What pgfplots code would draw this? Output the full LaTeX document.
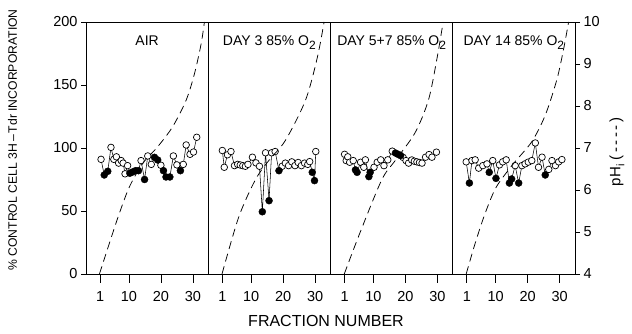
\documentclass[border=0pt]{standalone}
\usepackage{fontspec}
\setmainfont{Liberation Sans}
\usepackage{pgfplots}
\usepackage{pgfplotstable}
\pgfplotsset{compat=1.18}

% fraction, value, filled flag
\pgfplotstableread{
x y f
1.3 91 0
2.3 78.6 1
3.4 81.5 1
4.4 100.5 0
5.3 91 0
6.1 93 0
6.8 88 0
7.6 90 0
8.2 88 0
8.8 79.5 0
9.6 86 0
10.3 80 1
11.2 81 1
12.1 82 1
13 82 1
13.8 90 0
14.9 75 1
15.9 93.7 0
17 87 0
18 92.6 1
19 90.5 1
20 86.3 0
20.8 82 1
21.6 77 1
22.8 77 1
23.9 93.7 0
25 86.6 0
26.1 82 1
27 87 0
27.9 102.4 0
29.1 95 0
30.2 96.8 0
31.2 108.5 0
}\dA
\pgfplotstableread{
x y f
1 98 0
1.6 84.7 0
2.6 94.6 0
3.7 97.2 0
4.8 86 0
5.8 87 0
6.6 86.5 0
7.4 86 0
8.2 85.5 0
9 87 0
10.4 92.7 0
11.5 88.2 0
12.6 85.5 0
13.5 49.4 1
14.5 96.2 0
15.6 58.2 1
16.4 96.2 0
17.5 97.2 0
18.7 82 1
19.7 85.5 0
20.7 88 0
21.7 86 0
22.7 89 0
23.7 86 0
24.7 88.5 0
25.7 86 0
26.7 88 0
27.7 87 0
28.3 89.2 0
29.1 80.7 1
29.8 74.1 1
30.2 97.2 0
}\dB
\pgfplotstableread{
x y f
1 95 0
1.5 90 0
2 93 0
2.6 88.7 0
3.7 90 0
4.4 82.6 1
4.9 80.7 1
6 88.7 0
7 84.7 0
7.5 90.6 0
8.6 77.3 1
9 80.7 1
10.2 84.7 0
11.2 88.7 0
12.3 90.6 0
13.3 86 0
14.5 90.6 0
15.9 97.5 0
16.9 96 1
17.7 95 1
18.5 94 1
19.3 92.5 0
20.2 90 0
21 88 0
22 90.5 0
22.8 89.5 0
23.6 89 0
24.4 88.5 0
25.2 88 0
26.3 92.7 0
27.4 94.8 0
28.3 92.7 0
29.7 96.7 0
}\dC
\pgfplotstableread{
x y f
0.8 89 0
1.8 72.2 1
2.6 90 0
3.6 90.6 0
4.7 84 0
6 86 0
7.3 87.4 0
8 80.7 1
9.1 90 0
10.1 75.9 1
11.2 86.6 0
12.2 89 0
13.3 90.6 0
14.3 72.2 1
15 75.4 1
16.1 86 0
17.2 72.2 1
18.2 86 0
19.2 87.4 0
20.2 88.8 0
21.3 90 0
22.4 104 0
23.4 84.7 0
24.5 92.7 0
25.5 78.6 1
26.6 83 0
27.6 90 0
28.7 86 0
29.7 89 0
30.7 90.8 0
}\dD
% pH curves
\pgfplotstableread{
x ph
0.8 4.0
3.9 4.73
7 5.44
10.2 6.08
14.3 6.63
19 7.03
23.7 7.51
27.9 8.14
30.5 8.77
32.6 9.49
33.6 10
}\pA
\pgfplotstableread{
x ph
0.9 4.0
6.1 5.35
11.3 6.24
15.5 6.7
20.7 7.18
27 8.14
30.7 9.16
32.8 10
}\pB
\pgfplotstableread{
x ph
0.9 4.0
5.8 4.98
12.6 6.24
16.8 6.7
23 7.36
27.2 8.14
29.8 9.1
31.8 10
}\pC
\pgfplotstableread{
x ph
0.8 4.0
3.6 4.73
6.7 5.44
10.2 6.07
15.6 6.63
21.3 7.15
25.5 7.78
29.1 8.62
31.2 9.34
32.8 10
}\pD

\pgfplotsset{
  panel/.style={
    scale only axis, width=122.25pt, height=252pt, anchor=south west,
    xmin=-3.4, xmax=34.8, ymin=0, ymax=200,
    xtick={1,10,20,30}, xtick pos=bottom, ytick=\empty,
    tick align=outside, major tick length=9pt,
    axis line style={line width=0.8pt}, tick style={black, line width=0.7pt},
    tick label style={font=\fontsize{14.5}{15}\selectfont},
    xticklabel shift=5pt,
    /pgf/number format/assume math mode=true,
  },
  phaxis/.style={
    scale only axis, width=122.25pt, height=252pt, anchor=south west,
    xmin=-3.4, xmax=34.8, ymin=4, ymax=10,
  },
  openm/.style={only marks, mark=*, mark size=3.3pt, mark options={fill=white, draw=black, line width=0.7pt}},
  fillm/.style={only marks, mark=*, mark size=3.5pt, mark options={fill=black, draw=black}},
  phcurve/.style={black, dash pattern=on 8pt off 5pt, line width=0.75pt, smooth},
}

\newcommand{\panelplots}[1]{%
  \addplot[black, line width=0.55pt] table[x=x,y=y]{#1};
  \addplot[openm, restrict expr to domain={\thisrow{f}}{0:0}] table[x=x,y=y]{#1};
  \addplot[fillm, restrict expr to domain={\thisrow{f}}{1:1}] table[x=x,y=y]{#1};
}
\newcommand{\Otwo}{O\raisebox{-0.5ex}{\fontsize{12}{12}\selectfont 2}}

\begin{document}
\begin{tikzpicture}[x=1pt,y=1pt]
\useasboundingbox (0,0) rectangle (632,334);

% panel 1
\begin{axis}[panel, at={(86pt,60pt)}]
\panelplots{\dA}
\node[anchor=base, font=\fontsize{14}{14}\selectfont] at (rel axis cs:0.5,0.905) {AIR};
\end{axis}
\begin{axis}[phaxis, at={(86pt,60pt)}, hide axis]
\addplot[phcurve] table[x=x,y=ph]{\pA};
\end{axis}
\begin{axis}[scale only axis, width=122.25pt, height=252pt, anchor=south west, at={(86pt,60pt)},
  xmin=-3.4, xmax=34.8, ymin=0, ymax=200, hide x axis, axis y line*=left,
  ytick={0,50,100,150,200}, tick align=outside, major tick length=5pt,
  axis line style={line width=0.8pt}, tick style={black, line width=0.7pt},
  tick label style={font=\fontsize{14.5}{15}\selectfont},
  /pgf/number format/assume math mode=true]
\end{axis}

% panel 2
\begin{axis}[panel, at={(208.25pt,60pt)}]
\panelplots{\dB}
\node[anchor=base, font=\fontsize{14}{14}\selectfont] at (rel axis cs:0.5,0.905) {DAY 3 85\% \Otwo};
\end{axis}
\begin{axis}[phaxis, at={(208.25pt,60pt)}, hide axis]
\addplot[phcurve] table[x=x,y=ph]{\pB};
\end{axis}

% panel 3
\begin{axis}[panel, at={(330.5pt,60pt)}]
\panelplots{\dC}
\node[anchor=base, font=\fontsize{14}{14}\selectfont] at (rel axis cs:0.5,0.905) {DAY 5+7 85\% \Otwo};
\end{axis}
\begin{axis}[phaxis, at={(330.5pt,60pt)}, hide axis]
\addplot[phcurve] table[x=x,y=ph]{\pC};
\end{axis}

% panel 4
\begin{axis}[panel, at={(452.75pt,60pt)}]
\panelplots{\dD}
\node[anchor=base, font=\fontsize{14}{14}\selectfont] at (rel axis cs:0.5,0.905) {DAY 14 85\% \Otwo};
\end{axis}
\begin{axis}[phaxis, at={(452.75pt,60pt)}, hide x axis, axis y line*=right,
  ytick={4,5,6,7,8,9,10}, tick align=outside, major tick length=5pt,
  axis line style={line width=0.8pt}, tick style={black, line width=0.7pt},
  tick label style={font=\fontsize{14.5}{15}\selectfont},
  /pgf/number format/assume math mode=true]
\addplot[phcurve] table[x=x,y=ph]{\pD};
\end{axis}

% axis titles
\node[rotate=90, font=\fontsize{12.2}{13}\selectfont] at (12.5,194) {\% CONTROL CELL 3H\,--\,Tdr INCORPORATION};
\node[font=\fontsize{16}{16}\selectfont] at (326,13) {FRACTION NUMBER};
\node[rotate=90, font=\fontsize{15}{15}\selectfont] at (617,182) {pH\raisebox{-0.5ex}{\fontsize{11}{11}\selectfont i} (\,-\,-\,-\,-\,)};
\end{tikzpicture}
\end{document}
